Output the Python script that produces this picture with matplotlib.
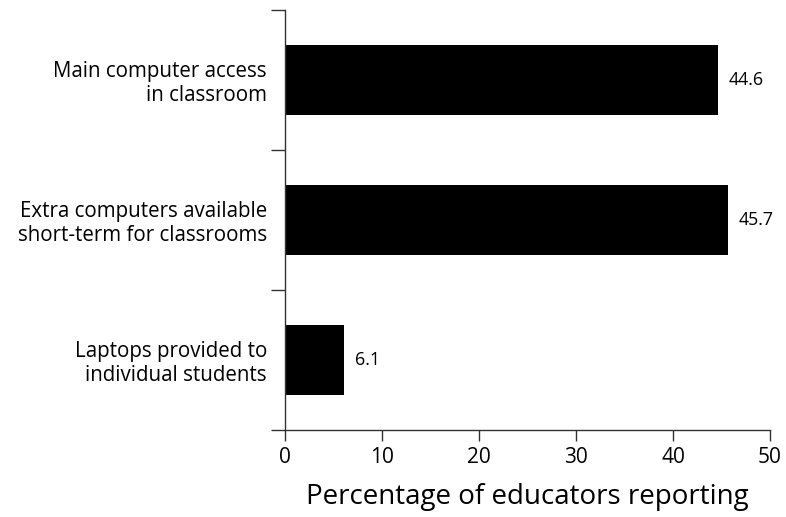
import matplotlib
matplotlib.use("Agg")
import matplotlib.pyplot as plt
from matplotlib.ticker import FixedLocator

categories = ["Main computer access\nin classroom",
              "Extra computers available\nshort-term for classrooms",
              "Laptops provided to\nindividual students"]
values = [44.6, 45.7, 6.1]
value_labels = ["44.6", "45.7", "6.1"]
xticks = [0, 10, 20, 30, 40, 50]
xlabel = "Percentage of educators reporting"

plt.rcParams['font.family'] = ['Open Sans', 'DejaVu Sans']

fig = plt.figure(figsize=(7.86, 5.17), dpi=100)
ax = fig.add_axes([0.3626, 0.1683, 0.9796 - 0.3626, 0.9807 - 0.1683])

pos = list(range(len(categories)))
ax.barh(pos, values, height=0.5, color="black")
ax.set_ylim(len(categories) - 0.5, -0.5)
ax.set_xlim(0, 50)

for p, v, lab in zip(pos, values, value_labels):
    ax.text(v + 1.1, p, lab, va="center", ha="left", fontsize=12.8)

ax.spines["top"].set_visible(False)
ax.spines["right"].set_visible(False)
for s in ("left", "bottom"):
    ax.spines[s].set_color("#333333")
    ax.spines[s].set_linewidth(1.0)

ax.set_yticks(pos)
ax.set_yticklabels(categories, fontsize=14.8, ha="right", multialignment="right",
                   linespacing=1.15)
ax.tick_params(axis="y", which="major", length=0, pad=13)
ax.yaxis.set_minor_locator(FixedLocator([-0.5, 0.5, 1.5, 2.5]))
ax.tick_params(axis="y", which="minor", length=10, width=1.0, color="#333333", direction="out")

ax.set_xticks(xticks)
ax.set_xticklabels([str(t) for t in xticks], fontsize=15)
ax.tick_params(axis="x", length=8, width=1.0, color="#333333", direction="out", pad=4)
ax.set_xlabel(xlabel, fontsize=20, labelpad=11)

fig.savefig("out.png", dpi=100)
